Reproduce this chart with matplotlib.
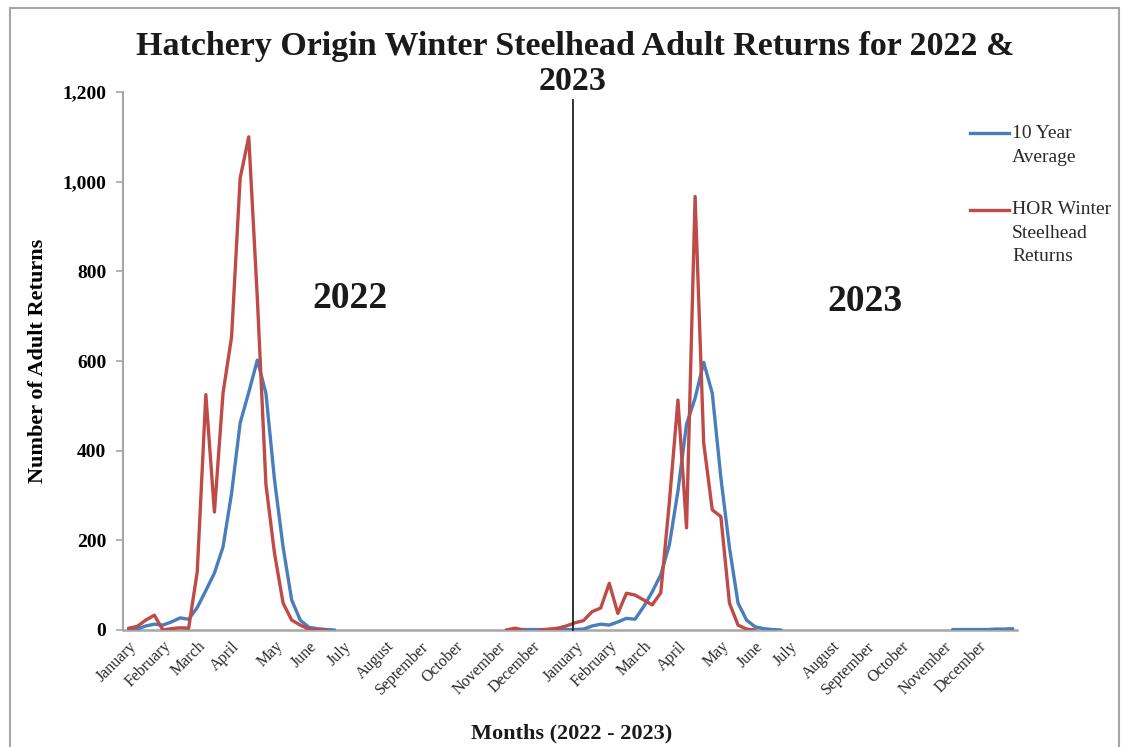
import numpy as np
import matplotlib
matplotlib.use("Agg")
import matplotlib.pyplot as plt
from matplotlib.lines import Line2D

# ---------------- data (weekly categories, week 0 = first week of Jan 2022) ----------------
month_names = ["January", "February", "March", "April", "May", "June", "July",
               "August", "September", "October", "November", "December"]
tick_labels = month_names + month_names
tick_weeks = [0, 4, 8, 12, 17, 21, 25, 30, 34, 38, 43, 47,
              52, 56, 60, 64, 69, 73, 77, 82, 86, 90, 95, 99]
n_weeks = 104

# 10 year average (segments: start week, values)
avg_seg1_start = 0
avg_seg1 = [0, 2, 9, 13, 11, 18, 27, 24, 50, 88, 127, 185, 305, 462, 530, 602,
            528, 335, 185, 67, 22, 6, 3, 1, 0]
avg_seg2_start = 44
avg_seg2 = [0, 1, 1, 1, 1, 1, 1, 1,
            1, 2, 9, 13, 11, 18, 26, 24, 52, 85, 123, 190, 310, 459, 517, 597,
            528, 340, 184, 60, 22, 7, 3, 1, 0]
avg_seg3_start = 96
avg_seg3 = [1, 1, 1, 1, 1, 2, 2, 3]

# HOR winter steelhead returns
hor_seg1_start = 0
hor_seg1 = [4, 8, 22, 33, 0, 3, 5, 4, 130, 525, 263, 528, 654, 1008, 1100, 740,
            325, 171, 60, 22, 11, 2, 0, 0]
hor_seg2_start = 44
hor_seg2 = [0, 4, 0]
hor_seg3_start = 48
hor_seg3 = [0, 2, 4, 9, 16, 21, 41, 49, 104, 37, 82, 78, 67, 56, 83, 285, 513,
            228, 967, 417, 268, 253, 60, 11, 2, 0]

divider_week = 51.75
divider_top = 1183

def build(segments):
    arr = np.full(n_weeks, np.nan)
    for start, vals in segments:
        arr[start:start + len(vals)] = vals
    return arr

weeks = np.arange(n_weeks)
avg = build([(avg_seg1_start, avg_seg1), (avg_seg2_start, avg_seg2), (avg_seg3_start, avg_seg3)])
hor = build([(hor_seg1_start, hor_seg1), (hor_seg2_start, hor_seg2), (hor_seg3_start, hor_seg3)])

# ---------------- style ----------------
plt.rcParams['font.family'] = ['Liberation Serif', 'DejaVu Serif']
BLUE = "#4A7EBB"
RED = "#BE4B48"
GRAY = "#A6A6A6"
TXT = "#1a1a1a"

fig = plt.figure(figsize=(11.25, 7.47), dpi=100)
ax = fig.add_axes([123 / 1125, 1 - 630 / 747, (1017 - 123) / 1125, (630 - 92) / 747])

ax.plot(weeks, avg, color=BLUE, lw=2.4, solid_joinstyle='round', solid_capstyle='round', zorder=3)
ax.plot(weeks, hor, color=RED, lw=2.4, solid_joinstyle='round', solid_capstyle='round', zorder=4)
ax.plot([divider_week, divider_week], [0, divider_top], color="#222222", lw=1.3, zorder=5, clip_on=False)

ax.set_xlim(-0.65, 103.5)
ax.set_ylim(0, 1200)
ax.set_yticks(np.arange(0, 1201, 200))
ax.set_yticklabels([f"{v:,}" for v in range(0, 1201, 200)], fontsize=14, fontweight='bold')
ax.set_xticks(tick_weeks)
ax.set_xticklabels(tick_labels, rotation=45, ha='right', va='top', rotation_mode='anchor',
                   fontsize=11.5, color="#2a2a2a")
ax.tick_params(axis='x', length=0, pad=6)
ax.tick_params(axis='y', length=5, direction='out', color=GRAY, width=1.2, pad=7)

for s in ['top', 'right']:
    ax.spines[s].set_visible(False)
ax.spines['left'].set_color(GRAY)
ax.spines['bottom'].set_color(GRAY)
ax.spines['left'].set_linewidth(1.5)
ax.spines['bottom'].set_linewidth(1.8)

ax.set_ylabel("Number of Adult Returns", fontsize=16, fontweight='bold', labelpad=10)
fig.text(572 / 1125, 1 - 738 / 747, "Months (2022 - 2023)", ha='center', va='baseline',
         fontsize=16, fontweight='bold', color=TXT)

fig.text(575 / 1125, 1 - 46 / 747, "Hatchery Origin Winter Steelhead Adult Returns for 2022 &",
         ha='center', va='center', fontsize=24.5, fontweight='bold', color=TXT)
fig.text(573 / 1125, 1 - 81 / 747, "2023", ha='center', va='center', fontsize=24.5,
         fontweight='bold', color=TXT)

fig.text(350 / 1125, 1 - 298 / 747, "2022", ha='center', va='center', fontsize=27, fontweight='bold', color=TXT)
fig.text(865 / 1125, 1 - 302 / 747, "2023", ha='center', va='center', fontsize=27, fontweight='bold', color=TXT)

# legend (drawn manually to match the layout)
fig.add_artist(Line2D([970 / 1125, 1009 / 1125], [1 - 133 / 747] * 2, color=BLUE, lw=2.4))
fig.text(1012 / 1125, 1 - 133 / 747, "10 Year", ha='left', va='center', fontsize=14, color="#2a2a2a")
fig.text(1012 / 1125, 1 - 157 / 747, "Average", ha='left', va='center', fontsize=14, color="#2a2a2a")
fig.add_artist(Line2D([970 / 1125, 1009 / 1125], [1 - 210 / 747] * 2, color=RED, lw=2.4))
fig.text(1012 / 1125, 1 - 210 / 747, "HOR Winter", ha='left', va='center', fontsize=14, color="#2a2a2a")
fig.text(1012 / 1125, 1 - 233 / 747, "Steelhead", ha='left', va='center', fontsize=14, color="#2a2a2a")
fig.text(1012 / 1125, 1 - 256 / 747, "Returns", ha='left', va='center', fontsize=14, color="#2a2a2a")

# outer frame
fig.add_artist(Line2D([10 / 1125, 10 / 1125], [0, 1 - 8 / 747], color=GRAY, lw=1.5))
fig.add_artist(Line2D([10 / 1125, 1119 / 1125], [1 - 8 / 747] * 2, color=GRAY, lw=1.5))
fig.add_artist(Line2D([1119 / 1125, 1119 / 1125], [0, 1 - 8 / 747], color=GRAY, lw=1.5))

fig.savefig("out.png", dpi=100)
